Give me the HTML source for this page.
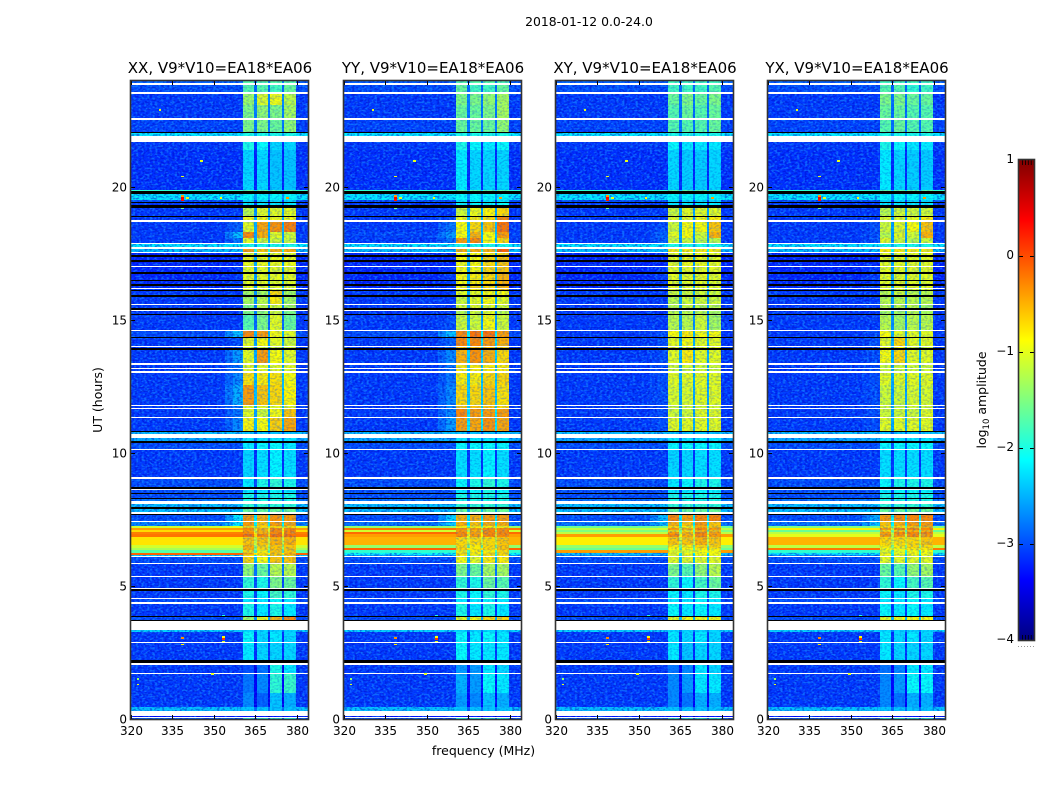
<!DOCTYPE html>
<html lang="en">
<head>
<meta charset="utf-8">
<title>2018-01-12 amplitude waterfall</title>
<style>
html,body{margin:0;padding:0;background:#fff;width:1050px;height:800px;overflow:hidden}
svg{display:block}
text{font-family:"DejaVu Sans","Liberation Sans",sans-serif;fill:#000}
</style>
</head>
<body>
<svg id="chart" xmlns="http://www.w3.org/2000/svg" width="1050" height="800" viewBox="0 0 1050 800">
<defs>
<filter id="speckLight" x="0" y="0" width="100%" height="100%" color-interpolation-filters="sRGB">
<feTurbulence type="fractalNoise" baseFrequency="0.36 0.5" numOctaves="1" seed="4"/>
<feColorMatrix type="matrix" values="0 0 0 0 0.1  0 0 0 0 0.6  0 0 0 0 1  7 0 0 0 -3.4"/>
</filter>
<filter id="speckDark" x="0" y="0" width="100%" height="100%" color-interpolation-filters="sRGB">
<feTurbulence type="fractalNoise" baseFrequency="0.4 0.55" numOctaves="1" seed="11"/>
<feColorMatrix type="matrix" values="0 0 0 0 0  0 0 0 0 0  0 0 0 0 0.75  7 0 0 0 -3.4"/>
</filter>
<linearGradient id="jetGradient" x1="0" y1="0" x2="0" y2="1"></linearGradient>
</defs>
<text x="589" y="26" text-anchor="middle" font-size="12.4">2018-01-12 0.0-24.0</text>
<text x="483.5" y="755" text-anchor="middle" font-size="12.5">frequency (MHz)</text>
<text x="0" y="0" transform="translate(102,400) rotate(-90)" text-anchor="middle" font-size="12.5">UT (hours)</text>
<text x="0" y="0" transform="translate(986,400) rotate(-90)" text-anchor="middle" font-size="12.5">log<tspan dy="3" font-size="8.5">10</tspan><tspan dy="-3"> amplitude</tspan></text>
</svg>
<script>
// ---------- data ----------
const polarisations = ["XX", "YY", "XY", "YX"];
const baselineLabel = "V9*V10=EA18*EA06";
const freqTicks = [320, 335, 350, 365, 380];
const timeTicks = [0, 5, 10, 15, 20];
const colorTicks = [1, 0, -1, -2, -3, -4];
// top edge (hours) of each data row; a row runs down to the next top
const rowTops = [24,23.85,23.51,23.1,22.55,22.03,21.71,21.41,19.9,19.75,19.53,19.41,19.23,18.89,18.7,18.32,18.1,17.87,17.68,17.53,17.38,17.19,17.01,16.74,16.48,16.29,16.18,16.1,15.88,15.56,15.35,15.2,14.58,14.33,14,13.88,13.32,13.17,13.02,12.57,11.76,11.66,11.32,10.78,10.57,10.38,10.12,9.03,8.62,8.46,8.28,8.09,7.9,7.67,7.41,7.26,7.2,7.1,7.02,6.96,6.85,6.55,6.45,6.36,6.25,6.17,6.09,5.83,5.34,4.82,4.51,4.33,3.82,3.35,3.27,2.86,2.03,1.7,0.98,0.45,0.11,0.04];
// flagged (white) time ranges, shared by all polarisations
const whiteStarts = [23.93,23.59,22.61,21.93,18.76,17.91,17.76,17.57,17.04,16.22,15.61,15.39,14.63,14.05,13.39,13.22,13.09,11.81,11.7,11.36,10.72,10.16,9.1,8.65,8.2,7.79,7.45,6.13,5.87,5.38,4.93,4.55,4.42,3.71,2.9,2.09,1.74,0.3,0.06];
const whiteEnds = [23.85,23.51,22.55,21.71,18.7,17.87,17.68,17.53,17.01,16.18,15.56,15.35,14.58,14,13.32,13.17,13.02,11.76,11.66,11.32,10.57,10.12,9.03,8.62,8.09,7.71,7.41,6.09,5.83,5.34,4.89,4.51,4.33,3.35,2.86,2.03,1.7,0.11,0.04];
// below-range (black) time ranges
const blackStarts = [22.08,19.86,19.45,19.34,18.92,17.46,17.27,16.82,16.52,16.37,16.14,15.95,15.46,15.24,14.37,13.94,10.84,10.46,8.73,8.5,8.31,7.98,7.71,4.89,3.87,3.74,2.22];
const blackEnds = [22.03,19.75,19.41,19.23,18.89,17.38,17.19,16.74,16.48,16.29,16.1,15.88,15.39,15.2,14.33,13.88,10.78,10.38,8.65,8.46,8.28,7.9,7.67,4.82,3.82,3.71,2.09];
// each row: [background, band edge, subband 360-365, 365-370, 370-375, 375-380] in log10 amplitude
const xxValues = [
[-2.9,-2.9,-1.7,-1.7,-1.7,-1.7],[-3,-3,-1.7,-1.7,-1.8,-1.6],[-3.1,-3.1,-1.35,-1.05,-.95,-1.2],[-3.1,-3.1,-1.5,-1.4,-1.5,-1.3],[-3.05,-3.05,-1.5,-1.5,-1.6,-1.4],[-2.2,-2.2,-2,-2,-2,-2],[-3.1,-3.1,-2,-2.1,-2.3,-2.3],[-3.15,-3.15,-2.3,-2.3,-2.4,-2.4],[-1.9,-1.9,-1.7,-1.7,-1.7,-1.7],[-2.2,-2.2,-2.1,-2.1,-2.1,-2.1],
[-3,-3,-2.3,-2.3,-2.3,-2.3],[-3.1,-3.1,-2.2,-2.2,-2.2,-2.2],[-3.1,-3.1,-1.2,-1,-1,-1],[-3.1,-3.1,-.9,-.9,-.9,-.9],[-3.1,-2.9,-1,-.45,-.35,-.25],[-3.1,-2.4,-.3,-.5,-1,-1.1],[-3.1,-2.8,-1,-1.1,-1.1,-1.1],[-2.2,-2.2,-2,-2,-2,-2],[-2.4,-2.4,-.4,-.6,-.5,-.5],[-3.2,-3.2,-1,-1,-1,-1],
[-3.2,-3.2,-.95,-.95,-.95,-.95],[-3.2,-3.2,-.95,-.95,-.95,-.95],[-3.2,-3.1,-1,-1,-1,-1],[-3.2,-3.1,-1,-1,-1,-1],[-3.2,-3.1,-1,-1,-1,-1],[-3.2,-3.1,-1,-1,-1,-1],[-3.1,-3.1,-1,-1,-1,-1],[-3.1,-3.1,-1.3,-1.3,-.7,-1.3],[-3.1,-3.1,-1.3,-1.2,-.8,-1.3],[-3.1,-3.1,-1.5,-1.2,-1.1,-1.3],
[-3.1,-3.1,-1.5,-1.4,-1.1,-1.5],[-3.1,-3.1,-1.7,-1.5,-1,-1.6],[-3,-2.4,-.3,-.4,-.9,-1],[-3.1,-3,-1,-.9,-1,-1.1],[-3.1,-3,-1.1,-1.1,-1.1,-1.1],[-3.1,-2.6,-1,-.4,-.9,-1],[-3.1,-2.8,-1,-1,-1,-1],[-3.1,-2.8,-1,-1,-1,-1],[-3.1,-2.7,-.75,-.8,-.75,-.9],[-3.1,-2.5,-.4,-.6,-.7,-.85],
[-3.1,-2.8,-1,-1,-1,-1],[-3.1,-2.8,-1,-1.1,-.9,-.6],[-3.1,-2.7,-.85,-.9,-.65,-.45],[-2.4,-2.4,-2.4,-2.4,-2.4,-2.4],[-2.5,-2.5,-2.2,-2.2,-2.2,-2.2],[-3,-3,-2.2,-2.1,-2.1,-2.2],[-3.1,-3.1,-2.3,-2.25,-2.15,-2.25],[-3,-3,-2.2,-2,-1.9,-2],[-3,-3,-2.2,-2.2,-2.1,-2.2],[-3,-3,-2,-2,-2,-2],
[-2.8,-2.8,-2,-2,-2,-2],[-2.4,-2.4,-1.9,-1.9,-1.9,-1.9],[-2.4,-2.4,-1.6,-1.6,-1.6,-1.6],[-3,-2.2,-.4,-.5,-.35,-.4],[-2.7,-2.2,-.4,-.6,-.4,-.45],[-1.1,-1,-.7,-.7,-.7,-.7],[-.4,-.4,-.3,-.5,-.3,-.3],[-.7,-.7,-.4,-.5,-.3,-.3],[-.25,-.25,-.3,-.5,-.3,-.3],[-.2,-.2,-.2,-.3,-.2,-.2],
[-.75,-.75,-.6,-.6,-.5,-.5],[-1.1,-1.1,-.5,-.7,-.6,-.6],[-1.3,-1.3,-.5,-.7,-.6,-.6],[-1.7,-1.7,-.7,-.8,-.6,-.6],[-.1,-.1,-.5,-.7,-.6,-.5],[-2.3,-2.3,-.8,-.9,-.7,-.7],[-3,-3,-.7,-.9,-.6,-.6],[-3.1,-3.1,-1.4,-1.6,-1.2,-1.2],[-3.1,-3.1,-1.9,-2,-1.5,-1.6],[-3.1,-3.1,-2,-2.1,-1.8,-1.9],
[-3,-3,-2.2,-2.2,-2.1,-2.2],[-3.1,-3.1,-2,-2.2,-2,-2.2],[-3,-3,-1.3,-.9,-.5,-.3],[-2.3,-2.3,-2.3,-2.3,-2.3,-2.3],[-3.1,-3.1,-2.1,-2.3,-2.2,-2.3],[-3.1,-3.1,-2.2,-2.3,-2.3,-2.3],[-3.1,-3.1,-3,-2.8,-2,-2.2],[-3.1,-3.1,-2.8,-2.7,-1.9,-1.85],[-3.1,-3.1,-2.7,-2.9,-2.4,-2.5],[-2.4,-2.4,-2.4,-2.4,-2.4,-2.4],[-3.3,-3.3,-3.3,-3.3,-3.3,-3.3],[-2.9,-2.9,-1.9,-1.9,-1.9,-2]];
const yyValues = [
[-2.9,-2.9,-1.7,-1.7,-1.7,-1.7],[-3,-3,-1.6,-1.8,-1.8,-1.6],[-3.1,-3.1,-1.5,-1.5,-1.4,-1.3],[-3.1,-3.1,-1.6,-1.6,-1.5,-1.3],[-3.05,-3.05,-1.6,-1.6,-1.6,-1.4],[-2.2,-2.2,-2,-2,-2,-2],[-3.1,-3.1,-2,-2.1,-2.2,-2.1],[-3.15,-3.15,-2.2,-2.3,-2.3,-2.3],[-1.9,-1.9,-1.7,-1.7,-1.7,-1.7],[-2.2,-2.2,-2.1,-2.1,-2.1,-2.1],
[-3,-3,-2.2,-2.2,-2.2,-2.2],[-3.1,-3.1,-2.1,-2.1,-2.1,-2.1],[-3.1,-3.1,-1.1,-.95,-.85,-.7],[-3.1,-3,-.9,-.8,-.7,-.3],[-3.1,-2.8,-.9,-.7,-.6,-.2],[-3.05,-2.6,-.9,-.5,-.9,-.4],[-3.1,-2.8,-.4,-.3,-.9,-.7],[-2.2,-2.2,-2,-2,-2,-2],[-2.4,-2.4,-.5,-.5,-.5,-.1],[-3.2,-3.2,-.9,-.9,-.8,-.7],
[-3.2,-3.2,-.9,-.9,-.7,-.6],[-3.2,-3.2,-.9,-.9,-.7,-.6],[-3.2,-3.1,-.9,-.9,-.7,-.6],[-3.2,-3.1,-.9,-.8,-.7,-.5],[-3.2,-3.1,-.9,-.8,-.7,-.5],[-3.2,-3.1,-.9,-.7,-.7,-.5],[-3.1,-3.1,-.9,-.8,-.7,-.6],[-3.1,-3.1,-1,-1,-.9,-.9],[-3.1,-3.1,-1.1,-1,-.9,-1],[-3.1,-3.1,-1.1,-1,-1,-1.1],
[-3.1,-3.1,-1.2,-1.1,-1,-1.2],[-3.1,-3,-1.1,-1.1,-.9,-1.1],[-3,-2.4,-.3,-.2,-.2,-.4],[-3.1,-2.9,-.3,-.3,-.4,-.5],[-3.1,-2.9,-.6,-.6,-.6,-.7],[-3.1,-2.7,-.5,-.35,-.5,-.7],[-3.1,-2.8,-.8,-.8,-.8,-.8],[-3.1,-2.8,-.8,-.8,-.8,-.8],[-3.1,-2.8,-.8,-.8,-.7,-.7],[-3.1,-2.7,-.7,-.7,-.6,-.75],
[-3.1,-2.7,-.6,-.6,-.6,-.7],[-3.1,-2.7,-.3,-.4,-.4,-.4],[-3.1,-2.6,-.4,-.45,-.35,-.45],[-2.4,-2.4,-2.4,-2.4,-2.4,-2.4],[-2.5,-2.5,-2.2,-2.2,-2.2,-2.2],[-3,-3,-2.1,-2.1,-2.1,-2.1],[-3.1,-3.1,-2.25,-2.25,-2.15,-2.25],[-3,-3,-2.1,-2,-1.9,-2],[-3,-3,-2.2,-2.1,-2,-2.1],[-3,-3,-2,-2,-2,-2],
[-2.8,-2.8,-2,-2,-2,-2],[-2.4,-2.4,-1.9,-1.9,-1.9,-1.9],[-2.4,-2.4,-1.6,-1.6,-1.6,-1.6],[-3,-2.3,-.5,-.5,-.4,-.4],[-2.8,-2.3,-.5,-.6,-.5,-.5],[-1.4,-1.4,-.8,-.8,-.8,-.8],[-.2,-.2,-.3,-.4,-.3,-.3],[-1.1,-1.1,-.4,-.5,-.3,-.3],[-.15,-.15,-.3,-.4,-.3,-.3],[-.4,-.4,-.3,-.4,-.3,-.3],
[-.5,-.5,-.7,-.7,-.7,-.6],[-1.4,-1.4,-.7,-.8,-.7,-.6],[-.1,-.1,-.7,-.8,-.7,-.6],[-1.9,-1.9,-.8,-.8,-.8,-.7],[-2.1,-2.1,-.7,-.8,-.7,-.7],[-2.6,-2.6,-.9,-1,-.8,-.8],[-3,-3,-.9,-1,-.8,-.8],[-3.1,-3.1,-1.5,-1.6,-1.3,-1.3],[-3.1,-3.1,-1.9,-2,-1.6,-1.7],[-3.1,-3.1,-2,-2.1,-1.9,-2],
[-3,-3,-2.2,-2.2,-2.1,-2.2],[-3.1,-3.1,-2,-2.2,-2,-2.2],[-3,-3,-1,-.9,-.7,-.7],[-2.3,-2.3,-2.3,-2.3,-2.3,-2.3],[-3.1,-3.1,-2.1,-2.2,-2.1,-2.2],[-3.1,-3.1,-2.1,-2.2,-2.2,-2.2],[-3.1,-3.1,-2.6,-2.6,-2.2,-2.3],[-3.1,-3.1,-2.5,-2.6,-2.1,-2.2],[-3.1,-3.1,-2.6,-2.7,-2.4,-2.5],[-2.4,-2.4,-2.4,-2.4,-2.4,-2.4],[-3.3,-3.3,-3.3,-3.3,-3.3,-3.3],[-2.9,-2.9,-2,-2,-2,-2]];
const xyValues = [
[-2.9,-2.9,-1.8,-1.8,-1.8,-1.8],[-3,-3,-1.8,-1.8,-1.8,-1.7],[-3.1,-3.1,-1.6,-1.5,-1.6,-1.5],[-3.1,-3.1,-1.7,-1.6,-1.7,-1.6],[-3.05,-3.05,-1.7,-1.7,-1.7,-1.6],[-2.2,-2.2,-2,-2,-2,-2],[-3.1,-3.1,-2.1,-2.2,-2.2,-2.2],[-3.15,-3.15,-2.3,-2.35,-2.35,-2.3],[-1.9,-1.9,-1.7,-1.7,-1.7,-1.7],[-2.2,-2.2,-2.1,-2.1,-2.1,-2.1],
[-3,-3,-2.3,-2.3,-2.3,-2.3],[-3.1,-3.1,-2.2,-2.2,-2.2,-2.2],[-3.1,-3.1,-1.1,-1,-1,-1],[-3.1,-3.1,-1,-1,-.9,-.8],[-3.1,-3,-1.1,-.9,-.9,-.6],[-3.1,-2.9,-1,-.9,-1.1,-.5],[-3.1,-2.9,-1.1,-1.1,-1.2,-1.2],[-2.2,-2.2,-2,-2,-2,-2],[-2.4,-2.4,-.8,-.8,-.8,-.8],[-3.2,-3.2,-1,-1,-1,-1],
[-3.2,-3.2,-1,-.95,-.95,-1],[-3.2,-3.2,-1,-.95,-.95,-1],[-3.2,-3.1,-1,-1,-1,-1],[-3.2,-3.1,-1,-1,-1,-1],[-3.2,-3.1,-1,-1,-1,-1],[-3.2,-3.1,-1,-1,-1,-1],[-3.1,-3.1,-1,-1,-1,-1],[-3.1,-3.1,-1.1,-1.1,-1.1,-1.1],[-3.1,-3.1,-1.2,-1.1,-1.1,-1.1],[-3.1,-3.1,-1.2,-1.1,-1.2,-1.2],
[-3.1,-3.1,-1.2,-1.2,-1.2,-1.3],[-3.1,-3.1,-1.2,-1.2,-1.1,-1.3],[-3.1,-3,-.9,-.8,-.9,-.9],[-3.1,-3,-1,-.9,-1,-1],[-3.1,-3,-1,-1,-1,-1],[-3.1,-3,-1,-.8,-1,-1],[-3.1,-3,-1.1,-1.1,-1.1,-1.1],[-3.1,-3,-1.1,-1.1,-1.1,-1.1],[-3.1,-3,-1,-1,-1,-1],[-3.1,-3,-1.05,-1.05,-1,-1],
[-3.1,-3,-1.1,-1.1,-1.1,-1.1],[-3.1,-3,-1.1,-1.1,-1,-1],[-3.1,-3,-1,-1,-1,-1],[-2.4,-2.4,-2.4,-2.4,-2.4,-2.4],[-2.5,-2.5,-2.2,-2.2,-2.2,-2.2],[-3,-3,-2.1,-2.1,-2.1,-2.1],[-3.1,-3.1,-2.3,-2.3,-2.25,-2.25],[-3,-3,-2.2,-2.1,-2,-2],[-3,-3,-2.2,-2.2,-2.1,-2.1],[-3,-3,-2,-2,-2,-2],
[-2.8,-2.8,-2,-2,-2,-2],[-2.4,-2.4,-1.9,-1.9,-1.9,-1.9],[-2.4,-2.4,-1.6,-1.6,-1.6,-1.6],[-3,-2.4,-.3,-.4,-.3,-.3],[-2.8,-2.4,-.5,-.6,-.4,-.6],[-1.6,-1.5,-.7,-.8,-.5,-.6],[-1.2,-1.1,-.4,-.5,-.3,-.4],[-1.5,-1.5,-.7,-.7,-.5,-.6],[-1.2,-1.2,-.4,-.5,-.3,-.4],[-.4,-.4,-.3,-.5,-.3,-.4],
[-.8,-.8,-.6,-.6,-.5,-.6],[-1.4,-1.4,-.8,-.8,-.7,-.7],[-1.6,-1.6,-.9,-.9,-.8,-.8],[-.4,-.4,-1,-1,-.9,-.9],[-2.4,-2.4,-.9,-.9,-.9,-.9],[-2.7,-2.7,-1,-1,-1,-1],[-3,-3,-1,-1,-1,-1],[-3.1,-3.1,-1.5,-1.7,-1.4,-1.2],[-3.1,-3.1,-1.9,-2.1,-1.8,-1.6],[-3.1,-3.1,-2.1,-2.2,-2,-2],
[-3,-3,-2.2,-2.2,-2.1,-2.2],[-3.1,-3.1,-2.1,-2.2,-2.1,-2.2],[-3,-3,-1,-.9,-.9,-.9],[-2.3,-2.3,-2.3,-2.3,-2.3,-2.3],[-3.1,-3.1,-2.2,-2.3,-2.2,-2.3],[-3.1,-3.1,-2.2,-2.4,-2.3,-2.3],[-3.1,-3.1,-2.8,-2.7,-2.2,-2.3],[-3.1,-3.1,-2.7,-2.6,-2.2,-2.2],[-3.1,-3.1,-2.7,-2.8,-2.5,-2.5],[-2.4,-2.4,-2.4,-2.4,-2.4,-2.4],[-3.3,-3.3,-3.3,-3.3,-3.3,-3.3],[-2.9,-2.9,-2,-2,-2,-2]];
const yxValues = [
[-2.9,-2.9,-1.8,-1.8,-1.8,-1.8],[-3,-3,-1.7,-1.7,-1.9,-1.8],[-3.1,-3.1,-1.5,-1.5,-1.6,-1.6],[-3.1,-3.1,-1.6,-1.6,-1.7,-1.7],[-3.05,-3.05,-1.7,-1.6,-1.7,-1.7],[-2.2,-2.2,-2,-2,-2,-2],[-3.1,-3.1,-2,-2.1,-2.2,-2.2],[-3.15,-3.15,-2.2,-2.3,-2.35,-2.35],[-1.9,-1.9,-1.7,-1.7,-1.7,-1.7],[-2.2,-2.2,-2.1,-2.1,-2.1,-2.1],
[-3,-3,-2.3,-2.3,-2.3,-2.3],[-3.1,-3.1,-2.2,-2.2,-2.2,-2.2],[-3.1,-3.1,-1.2,-1.1,-1.1,-1.1],[-3.1,-3.1,-1,-1,-1,-.8],[-3.1,-3,-1.1,-1,-.9,-.6],[-3.1,-3,-1.2,-1,-1.1,-.5],[-3.1,-3,-1,-1.1,-1.2,-1.1],[-2.2,-2.2,-2,-2,-2,-2],[-2.4,-2.4,-.8,-.8,-.8,-.8],[-3.2,-3.2,-1,-1,-1,-1],
[-3.2,-3.2,-1,-1,-1,-1],[-3.2,-3.2,-1,-1,-1,-1],[-3.2,-3.1,-1,-1,-1,-1],[-3.2,-3.1,-1,-1,-1,-1],[-3.2,-3.1,-1,-1,-1,-1],[-3.2,-3.1,-1,-1,-1,-1],[-3.1,-3.1,-1,-1,-1,-1],[-3.1,-3.1,-1.2,-1.1,-1.2,-1.2],[-3.1,-3.1,-1.2,-1.2,-1.2,-1.2],[-3.1,-3.1,-1.2,-1.2,-1.2,-1.3],
[-3.1,-3.1,-1.3,-1.3,-1.2,-1.3],[-3.1,-3.1,-1.2,-1.3,-1.2,-1.2],[-3.1,-3,-.9,-1,-1,-1],[-3.1,-3,-1,-.7,-1,-1],[-3.1,-3,-1,-.9,-1.1,-1.1],[-3.1,-3,-.9,-.7,-1,-1],[-3.1,-3,-1.1,-1.1,-1.1,-1.1],[-3.1,-3,-1.1,-1.1,-1.1,-1.1],[-3.1,-3,-1,-1,-1,-1],[-3.1,-3,-1.1,-1.1,-1.05,-1.05],
[-3.1,-3,-1.1,-1.1,-1.1,-1.1],[-3.1,-3,-1.1,-1.1,-1.1,-1],[-3.1,-3,-1,-1,-1,-1],[-2.4,-2.4,-2.4,-2.4,-2.4,-2.4],[-2.5,-2.5,-2.2,-2.2,-2.2,-2.2],[-3,-3,-2.1,-2.1,-2.1,-2.1],[-3.1,-3.1,-2.25,-2.25,-2.25,-2.25],[-3,-3,-2.1,-2,-2,-2],[-3,-3,-2.2,-2.1,-2.1,-2.1],[-3,-3,-2,-2,-2,-2],
[-2.8,-2.8,-2,-2,-2,-2],[-2.4,-2.4,-1.9,-1.9,-1.9,-1.9],[-2.4,-2.4,-1.6,-1.6,-1.6,-1.6],[-3,-2.5,-.4,-.3,-.3,-.3],[-2.8,-2.4,-.6,-.5,-.4,-.4],[-1.5,-1.5,-.7,-.7,-.6,-.5],[-.8,-.8,-.4,-.3,-.3,-.3],[-1.6,-1.6,-.7,-.6,-.5,-.5],[-1.2,-1.2,-.4,-.3,-.3,-.3],[-1,-1,-.4,-.4,-.3,-.4],
[-.5,-.5,-.7,-.7,-.7,-.6],[-1.2,-1.2,-.8,-.8,-.7,-.7],[-.2,-.2,-.9,-.9,-.8,-.8],[-1.9,-1.9,-1,-1,-.9,-.9],[-2.2,-2.2,-.9,-.9,-.9,-.9],[-2.7,-2.7,-1,-1,-1,-1],[-3,-3,-1,-1,-1,-1],[-3.1,-3.1,-1.6,-1.7,-1.4,-1.3],[-3.1,-3.1,-1.9,-2.1,-1.8,-1.7],[-3.1,-3.1,-2.1,-2.2,-2,-2],
[-3,-3,-2.2,-2.2,-2.1,-2.2],[-3.1,-3.1,-2.1,-2.2,-2.1,-2.2],[-3,-3,-1,-.9,-.9,-.9],[-2.3,-2.3,-2.3,-2.3,-2.3,-2.3],[-3.1,-3.1,-2.2,-2.3,-2.2,-2.3],[-3.1,-3.1,-2.2,-2.3,-2.3,-2.3],[-3.1,-3.1,-2.8,-2.7,-2.2,-2.2],[-3.1,-3.1,-2.7,-2.6,-2.1,-2.1],[-3.1,-3.1,-2.7,-2.8,-2.5,-2.5],[-2.4,-2.4,-2.4,-2.4,-2.4,-2.4],[-3.3,-3.3,-3.3,-3.3,-3.3,-3.3],[-2.9,-2.9,-2,-2,-2,-2]];
const spikeHours = [19.68,19.6,19.52,19.2,19.6,19.6,19.6,3.08,3,2.92,3.05,2.8,1.7,1.5,1.3,21,20.4,22.9,3.9];
const spikeFreqs = [338,338,338,338,352,376,340,353,353,353,338,338,349,322,322,345,338,330,353];
const spikeLevels = [-.4,.4,.3,-1.6,-.9,-.4,-1,-.9,.1,-1,-.3,-.8,-1,-1.4,-1,-1,-1,-1,-2];

// ---------- layout ----------
const NS = "http://www.w3.org/2000/svg";
const svg = document.getElementById("chart");
const defs = svg.querySelector("defs");
const panelLefts = [131, 344, 556, 768];
const panelWidth = 177, plotTop = 81, plotBottom = 719;
const freqMin = 320, freqMax = 384, timeMin = 0, timeMax = 24, colorMin = -4, colorMax = 1;
const bandStart = 360.4, bandEnd = 379.6;
const cbLeft = 1019, cbRight = 1034, cbTop = 160, cbBottom = 640;

function xScale(left, f) { return left + (f - freqMin) / (freqMax - freqMin) * panelWidth; }
function yScale(t) { return plotBottom - (t - timeMin) / (timeMax - timeMin) * (plotBottom - plotTop); }
function cbScale(v) { return cbBottom - (v - colorMin) / (colorMax - colorMin) * (cbBottom - cbTop); }
function clamp01(v) { return Math.max(0, Math.min(1, v)); }
function jet(v) {
  const t = clamp01((v - colorMin) / (colorMax - colorMin));
  const r = clamp01(Math.min(4 * t - 1.5, -4 * t + 4.5));
  const g = clamp01(Math.min(4 * t - 0.5, -4 * t + 3.5));
  const b = clamp01(Math.min(4 * t + 0.5, -4 * t + 2.5));
  return "rgb(" + Math.round(r * 255) + "," + Math.round(g * 255) + "," + Math.round(b * 255) + ")";
}
function make(tag, parent, attrs, text) {
  const el = document.createElementNS(NS, tag);
  for (const k in attrs) el.setAttribute(k, attrs[k]);
  if (text !== undefined) el.textContent = text;
  parent.appendChild(el);
  return el;
}
function cell(parent, left, f0, f1, t0, t1, fill) {
  const x = Math.round(xScale(left, f0)), x2 = Math.round(xScale(left, f1));
  const y = Math.round(yScale(t0)), y2 = Math.round(yScale(t1));
  const el = make("rect", parent, { x: x, y: y, width: Math.max(1, x2 - x), height: Math.max(1, y2 - y), fill: fill, "shape-rendering": "crispEdges" });
  
  
  return el;
}
function noiseLayer(parent, left, clipId, lightOpacity, darkOpacity) {
  const holder = make("g", parent, { "clip-path": "url(#" + clipId + ")" });
  
  
  const light = make("rect", holder, { x: left, y: plotTop, width: panelWidth, height: plotBottom - plotTop, fill: "#fff", filter: "url(#speckLight)", opacity: lightOpacity });
  
  
  const dark = make("rect", holder, { x: left, y: plotTop, width: panelWidth, height: plotBottom - plotTop, fill: "#000", filter: "url(#speckDark)", opacity: darkOpacity });
  
  
}

function drawPanel(index, values) {
  const left = panelLefts[index];
  const right = left + panelWidth;
  const g = make("g", svg, {});
  
  
  const coolClip = make("clipPath", defs, { id: "coolClip" + index });
  const bandClip = make("clipPath", defs, { id: "bandClip" + index });
  make("rect", bandClip, { x: xScale(left, bandStart), y: plotTop, width: xScale(left, bandEnd) - xScale(left, bandStart), height: plotBottom - plotTop });

  // data rows
  rowTops.forEach(function (top, i) {
    const bottom = i + 1 < rowTops.length ? rowTops[i + 1] : timeMin;
    const row = values[i];
    const bg = row[0], edge = row[1], subs = row.slice(2);
    const gap = (bg + Math.min.apply(null, subs)) / 2 - 0.45;
    cell(g, left, freqMin, 354, top, bottom, jet(bg));
    cell(g, left, 354, 357, top, bottom, jet((bg + edge) / 2));
    cell(g, left, 357, bandStart, top, bottom, jet(edge));
    subs.forEach(function (v, s) {
      const f0 = bandStart + s * 5;
      cell(g, left, f0, f0 + 4.1, top, bottom, jet(v));
      if (s < 3) cell(g, left, f0 + 4.1, f0 + 5, top, bottom, jet(gap));
    });
    cell(g, left, bandEnd, freqMax, top, bottom, jet(bg));
    if (bg < -2) {
      make("rect", coolClip, { x: left, y: yScale(top), width: xScale(left, bandStart) - left, height: yScale(bottom) - yScale(top) });
      make("rect", coolClip, { x: xScale(left, bandEnd), y: yScale(top), width: right - xScale(left, bandEnd), height: yScale(bottom) - yScale(top) });
    }
  });

  // speckle texture: strong over the quiet background, faint inside the band
  noiseLayer(g, left, "coolClip" + index, 0.5, 0.4);
  noiseLayer(g, left, "bandClip" + index, 0.22, 0.16);

  // flagged rows
  whiteStarts.forEach(function (t, i) {
    const el = cell(g, left, freqMin, freqMax, t, whiteEnds[i], "#fff");
    
  });
  blackStarts.forEach(function (t, i) {
    const el = cell(g, left, freqMin, freqMax, t, blackEnds[i], "#000");
    
  });

  // isolated spikes
  spikeHours.forEach(function (t, i) {
    const el = cell(g, left, spikeFreqs[i], spikeFreqs[i] + 1, t + 0.03, t - 0.03, jet(spikeLevels[i]));
    
  });

  // ticks and labels
  freqTicks.forEach(function (f) {
    const x = Math.round(xScale(left, f)) + 0.5;
    const a = make("line", g, { x1: x, x2: x, y1: plotBottom, y2: plotBottom - 4, stroke: "#000", "stroke-width": 1 });
    
    
    const b = make("line", g, { x1: x, x2: x, y1: plotTop, y2: plotTop + 4, stroke: "#000", "stroke-width": 1 });
    
    
    const lab = make("text", g, { x: x, y: 735, "text-anchor": "middle", "font-size": 12 }, String(f));
    
    
  });
  timeTicks.forEach(function (t) {
    const y = Math.round(yScale(t)) + 0.5;
    const a = make("line", g, { x1: left, x2: left + 4, y1: y, y2: y, stroke: "#000", "stroke-width": 1 });
    
    
    const b = make("line", g, { x1: right, x2: right - 4, y1: y, y2: y, stroke: "#000", "stroke-width": 1 });
    
    
    const lab = make("text", g, { x: left - 4, y: y + 4, "text-anchor": "end", "font-size": 12 }, String(t));
    
    
  });

  const frame = make("rect", g, { x: left - 0.5, y: plotTop - 0.5, width: panelWidth + 1, height: plotBottom - plotTop + 1, fill: "none", stroke: "#333", "stroke-width": 1.6 });
  
  

  const title = make("text", g, { x: left + panelWidth / 2 + 0.5, y: 73, "text-anchor": "middle", "font-size": 15 }, polarisations[index] + ", " + baselineLabel);
  
  
}

[xxValues, yyValues, xyValues, yxValues].forEach(function (values, i) { drawPanel(i, values); });

// ---------- colour bar ----------
const grad = document.getElementById("jetGradient");
for (let s = 0; s <= 40; s++) {
  const v = colorMax - (colorMax - colorMin) * s / 40;
  make("stop", grad, { offset: (s / 40), "stop-color": jet(v) });
}
const cb = make("g", svg, {});


const cbBar = make("rect", cb, { x: cbLeft, y: cbTop, width: cbRight - cbLeft, height: cbBottom - cbTop, fill: "url(#jetGradient)" });


colorTicks.forEach(function (v) {
  const y = Math.round(cbScale(v)) + 0.5;
  if (v < colorMax && v > colorMin) {
    const l = make("line", cb, { x1: cbLeft, x2: cbLeft + 4, y1: y, y2: y, stroke: "#000" });
    
    
    const r = make("line", cb, { x1: cbRight, x2: cbRight - 4, y1: y, y2: y, stroke: "#000" });
    
    
  }
  const lab = make("text", cb, { x: 1014, y: cbScale(v) + 3, "text-anchor": "end", "font-size": 12 }, v < 0 ? "\u2212" + Math.abs(v) : String(v));
  
  
});
[cbTop, cbBottom - 5].forEach(function (y0) {
  for (let i = 0; i < 5; i++) {
    const x = cbLeft + 3.5 + i * 2.9;
    const m = make("line", cb, { x1: x, x2: x, y1: y0, y2: y0 + 5, stroke: "#000", "stroke-width": 0.8 });
    
    
  }
});
const cbFrame = make("rect", cb, { x: cbLeft - 0.5, y: cbTop - 0.5, width: cbRight - cbLeft + 1, height: cbBottom - cbTop + 1, fill: "none", stroke: "#333", "stroke-width": 1.6 });


const cbDots = make("line", cb, { x1: 1018, x2: 1035, y1: 646.5, y2: 646.5, stroke: "#999", "stroke-width": 1, "stroke-dasharray": "1 2" });


</script>
</body>
</html>
